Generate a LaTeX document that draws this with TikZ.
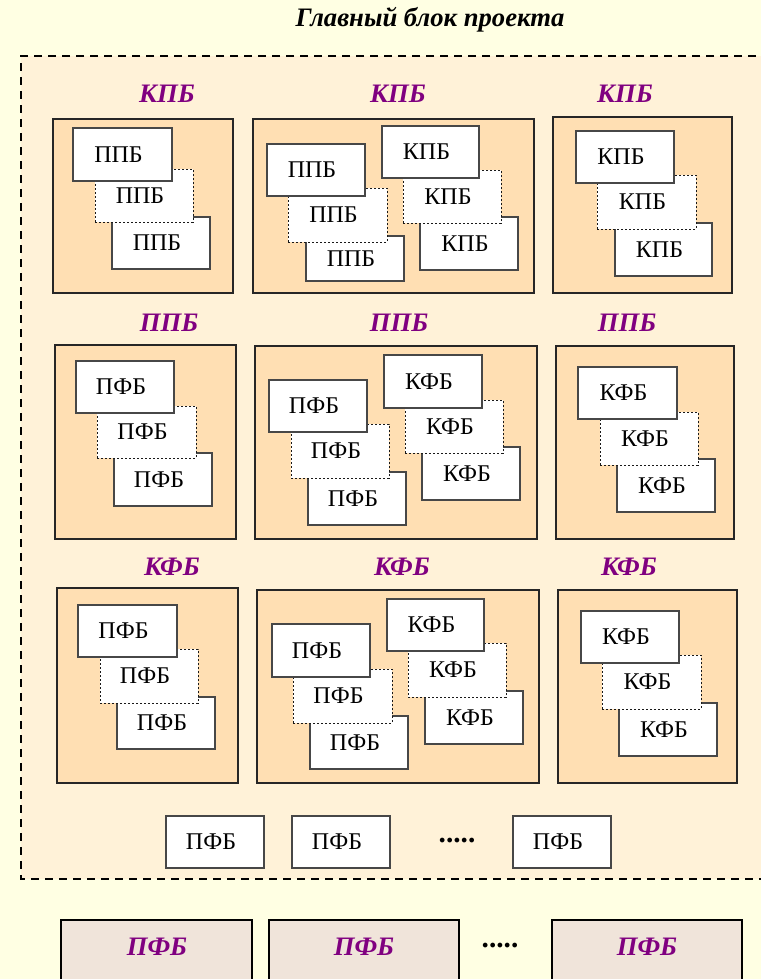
\documentclass[tikz,border=0pt]{standalone}
\usepackage{fontspec}
\setmainfont{Liberation Serif}
\definecolor{bg}{HTML}{FFFFE3}
\definecolor{cream}{HTML}{FFF2D8}
\definecolor{peach}{HTML}{FFDFB3}
\definecolor{pinkbeige}{HTML}{F0E4DA}
\definecolor{lblpurple}{HTML}{800080}
\newcommand\bx[7]{\node[#1,minimum width={(#5-#3)*0.75pt},minimum height={(#6-#4)*0.75pt}] (#2) at ({(#3+#5)/2},{(#4+#6)/2}) {#7};}
\tikzset{
  group/.style={draw=black!85, line width=1pt, fill=peach, inner sep=0pt, outer sep=0pt},
  card/.style={draw=black!72, line width=0.9pt, fill=white, inner sep=0pt, outer sep=0pt, font=\fontsize{18}{18}\selectfont, execute at end node={\hspace{6pt}}},
  dcard/.style={card, draw=black!90, line width=0.75pt, dash pattern=on 1.6pt off 1.4pt},
  lbl/.style={text=lblpurple, inner sep=0pt, font=\fontsize{20}{20}\selectfont\bfseries\itshape},
  outbox/.style={draw=black, line width=1.5pt, fill=pinkbeige, inner sep=0pt, outer sep=0pt},
  dots/.style={inner sep=0pt, font=\fontsize{22}{22}\selectfont\bfseries},
}
\begin{document}
\begin{tikzpicture}[x=0.75pt,y=-0.75pt]
\clip (0,0) rectangle (761,979);
\fill[bg] (0,0) rectangle (761,979);
% main dashed block
\fill[cream] (21,56) rectangle (770,879);
\draw[line width=1.5pt, dash pattern=on 6pt off 4.5pt] (770,56) -- (21,56) -- (21,879) -- (770,879);
\node[inner sep=0pt, font=\fontsize{20}{20}\selectfont\bfseries\itshape] (title) at (430,20) {Главный блок проекта};

% Row 1
\node[lbl] (l1a) at (167,94) {КПБ};
\node[lbl] (l1b) at (398,94) {КПБ};
\node[lbl] (l1c) at (625,94) {КПБ};
\bx{group}{A}{53}{119}{233}{293}{}
\bx{card}{A3}{112}{217}{210}{269}{ППБ}
\bx{dcard}{A2}{95}{169}{193}{222}{ППБ}
\bx{card}{A1}{73}{128}{172}{181}{ППБ}
\bx{group}{B}{253}{119}{534}{293}{}
\bx{card}{B3}{306}{236}{404}{281}{ППБ}
\bx{dcard}{B2}{288}{188}{387}{242}{ППБ}
\bx{card}{B1}{267}{144}{365}{196}{ППБ}
\bx{card}{B6}{420}{217}{518}{270}{КПБ}
\bx{dcard}{B5}{403}{170}{501}{223}{КПБ}
\bx{card}{B4}{382}{126}{479}{178}{КПБ}
\bx{group}{C}{553}{117}{732}{293}{}
\bx{card}{C3}{615}{223}{712}{276}{КПБ}
\bx{dcard}{C2}{597}{175}{696}{229}{КПБ}
\bx{card}{C1}{576}{131}{674}{183}{КПБ}

% Row 2
\node[lbl] (l2a) at (169,323) {ППБ};
\node[lbl] (l2b) at (399,323) {ППБ};
\node[lbl] (l2c) at (627,323) {ППБ};
\bx{group}{D}{55}{345}{236}{539}{}
\bx{card}{D3}{114}{453}{212}{506}{ПФБ}
\bx{dcard}{D2}{97}{406}{196}{458}{ПФБ}
\bx{card}{D1}{76}{361}{174}{413}{ПФБ}
\bx{group}{E}{255}{346}{537}{539}{}
\bx{card}{E3}{308}{472}{406}{525}{ПФБ}
\bx{dcard}{E2}{291}{424}{389}{478}{ПФБ}
\bx{card}{E1}{269}{380}{367}{432}{ПФБ}
\bx{card}{E6}{422}{447}{520}{500}{КФБ}
\bx{dcard}{E5}{405}{400}{503}{453}{КФБ}
\bx{card}{E4}{384}{355}{482}{408}{КФБ}
\bx{group}{F}{556}{346}{734}{539}{}
\bx{card}{F3}{617}{459}{715}{512}{КФБ}
\bx{dcard}{F2}{600}{412}{698}{465}{КФБ}
\bx{card}{F1}{578}{367}{677}{419}{КФБ}

% Row 3
\node[lbl] (l3a) at (172,567) {КФБ};
\node[lbl] (l3b) at (402,567) {КФБ};
\node[lbl] (l3c) at (629,567) {КФБ};
\bx{group}{G}{57}{588}{238}{783}{}
\bx{card}{G3}{117}{697}{215}{749}{ПФБ}
\bx{dcard}{G2}{100}{649}{198}{703}{ПФБ}
\bx{card}{G1}{78}{605}{177}{657}{ПФБ}
\bx{group}{H}{257}{590}{539}{783}{}
\bx{card}{H3}{310}{716}{408}{769}{ПФБ}
\bx{dcard}{H2}{293}{669}{392}{723}{ПФБ}
\bx{card}{H1}{272}{624}{370}{677}{ПФБ}
\bx{card}{H6}{425}{691}{523}{744}{КФБ}
\bx{dcard}{H5}{408}{643}{506}{697}{КФБ}
\bx{card}{H4}{387}{599}{484}{651}{КФБ}
\bx{group}{I}{558}{590}{737}{783}{}
\bx{card}{I3}{619}{703}{717}{756}{КФБ}
\bx{dcard}{I2}{602}{655}{701}{709}{КФБ}
\bx{card}{I1}{581}{611}{679}{663}{КФБ}

% Row of loose cards
\bx{card}{P1}{166}{816}{264}{868}{ПФБ}
\bx{card}{P2}{292}{816}{390}{868}{ПФБ}
\node[dots] (pd) at (457,841) {.....};
\bx{card}{P3}{513}{816}{611}{868}{ПФБ}

% Outside row
\bx{outbox}{O1}{61}{920}{252}{1000}{}
\bx{outbox}{O2}{269}{920}{459}{1000}{}
\bx{outbox}{O3}{552}{920}{742}{1000}{}
\node[lbl] (o1l) at (157,947) {ПФБ};
\node[lbl] (o2l) at (364,947) {ПФБ};
\node[dots] (od) at (500,946) {.....};
\node[lbl] (o3l) at (647,947) {ПФБ};
\end{tikzpicture}
\end{document}
